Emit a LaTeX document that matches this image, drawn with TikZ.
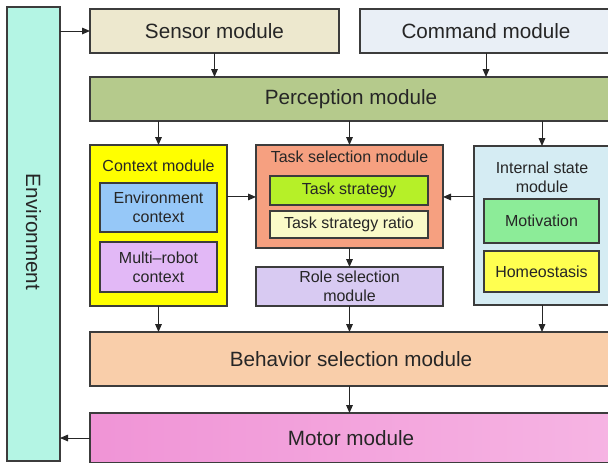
\documentclass[tikz,border=0pt]{standalone}
\usepackage{fontspec}
\setmainfont{Liberation Sans}
\usetikzlibrary{arrows.meta}
\definecolor{cLine}{RGB}{60,60,60}
\definecolor{cEnv}{RGB}{180,245,228}
\definecolor{cSensor}{RGB}{237,232,206}
\definecolor{cCmd}{RGB}{233,239,246}
\definecolor{cPerc}{RGB}{181,202,140}
\definecolor{cCtx}{RGB}{255,255,0}
\definecolor{cEnvCtx}{RGB}{150,200,248}
\definecolor{cMulti}{RGB}{226,184,246}
\definecolor{cTask}{RGB}{246,160,128}
\definecolor{cTStr}{RGB}{182,240,40}
\definecolor{cTRatio}{RGB}{250,250,200}
\definecolor{cRole}{RGB}{216,202,242}
\definecolor{cInt}{RGB}{213,236,243}
\definecolor{cMotiv}{RGB}{140,236,152}
\definecolor{cHomeo}{RGB}{255,255,80}
\definecolor{cBeh}{RGB}{249,206,170}
\definecolor{cMotL}{RGB}{240,148,214}
\definecolor{cMotR}{RGB}{246,180,227}
\newcommand\bigfnt{\fontsize{15.5}{18}\selectfont}
\newcommand\smfnt{\fontsize{12}{14.3}\selectfont}
\newcommand\mybox[7]{\node[bx,#6,minimum width={(#4-#2)*0.75pt},minimum height={(#5-#3)*0.75pt}] (#1) at ({(#2+#4)/2},{(#3+#5)/2}) {#7};}
\tikzset{
  bx/.style={draw=cLine,line width=0.9pt,inner sep=0pt,outer sep=0pt,align=center,font=\bigfnt,text=black!85},
  sm/.style={font=\smfnt},
  lbl/.style={inner sep=0pt,align=center,font=\smfnt,text=black!85},
  arr/.style={draw=black!85,line width=0.75pt,-{Triangle[length=6pt,width=5pt]}}
}
\begin{document}
\begin{tikzpicture}[x=0.75pt,y=-0.75pt]
\useasboundingbox (0,0) rectangle (608,462);
\clip (0,0) rectangle (608,462);
\mybox{env}{7}{7}{60}{461}{fill=cEnv}{}
\node[rotate=-90,font=\bigfnt,text=black!85] (envlbl) at (33.5,232) {Environment};
\mybox{sensor}{90}{9}{339}{53}{fill=cSensor}{Sensor module}
\mybox{cmd}{360}{9}{612}{53}{fill=cCmd}{Command module}
\mybox{perc}{90}{77}{612}{121}{fill=cPerc}{Perception module}
\mybox{ctx}{90}{145}{227}{306}{fill=cCtx}{}
\node[lbl] (ctxlbl) at (158.5,166) {Context module};
\mybox{envctx}{100}{183}{217}{232}{fill=cEnvCtx,sm}{Environment\\context}
\mybox{multi}{100}{242}{217}{292}{fill=cMulti,sm}{Multi--robot\\context}
\mybox{task}{256}{145}{443}{248}{fill=cTask}{}
\node[lbl] (tasklbl) at (349.5,157) {Task selection module};
\mybox{tstr}{270}{176}{428}{205}{fill=cTStr,sm}{Task strategy}
\mybox{tratio}{270}{211}{428}{238}{fill=cTRatio,sm}{Task strategy ratio}
\mybox{role}{256}{267}{443}{306}{fill=cRole,sm}{Role selection\\module}
\mybox{int}{474}{146}{610}{305}{fill=cInt}{}
\node[lbl] (intlbl) at (542,177) {Internal state\\module};
\mybox{motiv}{484}{199}{599}{243}{fill=cMotiv,sm}{Motivation}
\mybox{homeo}{484}{251}{599}{292}{fill=cHomeo,sm}{Homeostasis}
\mybox{beh}{90}{332}{612}{386}{fill=cBeh}{Behavior selection module}
\mybox{motor}{90}{413}{612}{463}{left color=cMotL,right color=cMotR}{Motor module}
% connectors
\draw[arr] (env.east |- sensor.west) -- (sensor.west);
\draw[arr] (sensor.south) -- (sensor.south |- perc.north);
\draw[arr] (cmd.south) -- (cmd.south |- perc.north);
\draw[arr] (perc.south -| ctx.north) -- (ctx.north);
\draw[arr] (perc.south -| task.north) -- (task.north);
\draw[arr] (perc.south -| int.north) -- (int.north);
\draw[arr] ([yshift=21.4pt]ctx.east) -- ([yshift=21.4pt]ctx.east -| task.west);
\draw[arr] ([yshift=21.4pt]int.west) -- ([yshift=21.4pt]int.west -| task.east);
\draw[arr] (task.south) -- (role.north);
\draw[arr] (ctx.south) -- (ctx.south |- beh.north);
\draw[arr] (role.south) -- (role.south |- beh.north);
\draw[arr] (int.south) -- (int.south |- beh.north);
\draw[arr] (beh.south -| role.south) -- (motor.north -| role.south);
\draw[arr] (motor.west) -- (motor.west -| env.east);
\end{tikzpicture}
\end{document}
